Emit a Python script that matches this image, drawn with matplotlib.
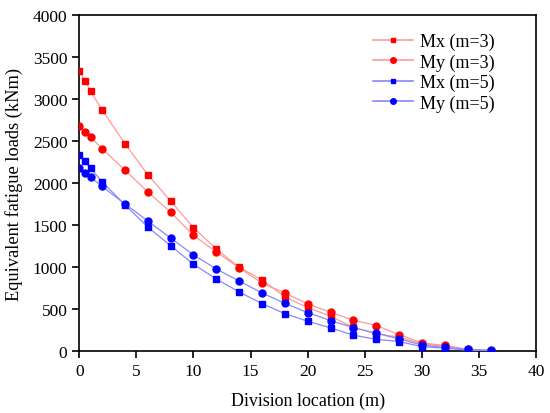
import matplotlib
matplotlib.use("Agg")
import matplotlib.pyplot as plt
from matplotlib.lines import Line2D

plt.rcParams['font.family'] = ['Liberation Serif', 'DejaVu Serif']

x = [0, 0.5, 1, 2, 4, 6, 8, 10, 12, 14, 16, 18, 20, 22, 24, 26, 28, 30, 32, 34, 36]
mx3 = [3330, 3220, 3095, 2870, 2470, 2100, 1786, 1468, 1214, 996, 845, 643, 515, 413, 280, 205, 163, 85, 55, 15, 2]
my3 = [2679, 2611, 2548, 2409, 2155, 1895, 1651, 1377, 1179, 990, 806, 690, 560, 460, 365, 302, 194, 95, 65, 20, 4]
mx5 = [2337, 2258, 2175, 2016, 1740, 1476, 1254, 1032, 857, 702, 563, 444, 353, 274, 187, 138, 111, 51, 32, 10, 2]
my5 = [2179, 2123, 2067, 1960, 1752, 1548, 1345, 1143, 976, 833, 690, 567, 456, 361, 277, 210, 143, 70, 42, 18, 8]
labels = ["Mx (m=3)", "My (m=3)", "Mx (m=5)", "My (m=5)"]

fig = plt.figure(figsize=(5.5, 4.14), dpi=100)
ax = fig.add_axes([0.144, 0.150, 0.831, 0.811])

series = [
    (mx3, 's', '#ff9999', '#ff0000', 4.2),
    (my3, 'o', '#ff9999', '#ff0000', 5.0),
    (mx5, 's', '#8888ff', '#0000ff', 4.2),
    (my5, 'o', '#8888ff', '#0000ff', 5.0),
]
handles = []
for (y, m, lc, mc, ms), lab in zip(series, labels):
    ax.plot(x, y, color=lc, lw=0.9, marker=m, markersize=ms,
            markerfacecolor=mc, markeredgecolor=mc, zorder=3)
    handles.append(Line2D([], [], color=lc, lw=1.2, marker=m, markersize=ms * 0.8,
                          markerfacecolor=mc, markeredgecolor=mc))

ax.set_xlim(0, 40)
ax.set_ylim(0, 4000)
ax.set_xticks(range(0, 41, 5))
ax.set_yticks(range(0, 4001, 500))
ax.tick_params(direction='out', length=5, width=1.2, labelsize=12.5, colors='black',
               top=False, right=False)
for s in ax.spines.values():
    s.set_linewidth(1.2)
ax.set_xlabel("Division location (m)", fontsize=13, labelpad=9)
ax.set_ylabel("Equivalent fatigue loads (kNm)", fontsize=13.2, labelpad=7)

ax.legend(handles, labels, loc='upper right', bbox_to_anchor=(0.945, 0.995),
          frameon=False, fontsize=13, handlelength=2.2, handletextpad=0.4,
          labelspacing=0.17)

fig.savefig("out.png", dpi=100)
